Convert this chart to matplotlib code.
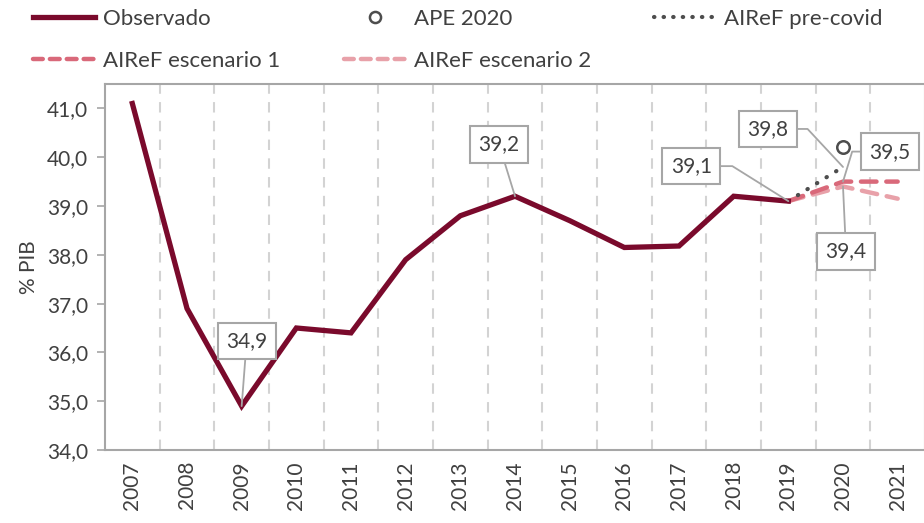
import matplotlib
matplotlib.use("Agg")
import matplotlib.pyplot as plt
import numpy as np
from matplotlib.lines import Line2D

years = ["2007", "2008", "2009", "2010", "2011", "2012", "2013", "2014",
         "2015", "2016", "2017", "2018", "2019", "2020", "2021"]
observado = [41.1, 36.9, 34.9, 36.5, 36.4, 37.9, 38.8, 39.2, 38.7, 38.15, 38.18, 39.2, 39.1]
precovid_years = ["2019", "2020"]
precovid = [39.1, 39.8]
ape_years = ["2020"]
ape = [40.2]
scen_years = ["2019", "2020", "2021"]
escenario1 = [39.1, 39.5, 39.5]
escenario2 = [39.1, 39.4, 39.15]

# labelled points: (series years, series values, year, text, offset px, elbow angle)
labels = [
    (years, observado, "2009", "34,9", (5, 65), None),
    (years, observado, "2014", "39,2", (-16, 52), None),
    (years, observado, "2019", "39,1", (-97, 35), -32),
    (precovid_years, precovid, "2020", "39,8", (-75, 38), -47),
    (scen_years, escenario1, "2020", "39,5", (47, 30), 73),
    (scen_years, escenario2, "2020", "39,4", (3, -65), None),
]

C_OBS = "#7A0A2C"
C_E1 = "#D9697A"
C_E2 = "#E8A1A9"
C_PRE = "#4D4D4D"
TXT = "#404040"
GRID = "#D3D3D3"
SPINE = "#A6A6A6"

plt.rcParams["font.family"] = ["Lato", "DejaVu Sans"]
plt.rcParams["font.size"] = 15


def xpos(ys):
    return [years.index(y) for y in ys]


fig = plt.figure(figsize=(9.24, 5.23), dpi=100)
ax = fig.add_axes([105 / 924, 1 - 450 / 523, 820 / 924, 366 / 523])

ax.plot(xpos(years[:len(observado)]), observado, color=C_OBS, lw=3.8,
        solid_joinstyle="miter", zorder=4)
ax.plot(xpos(scen_years), escenario2, color=C_E2, lw=3.2, dashes=(3.5, 2.2),
        dash_capstyle="round", zorder=3)
ax.plot(xpos(scen_years), escenario1, color=C_E1, lw=3.2, dashes=(3.5, 2.2),
        dash_capstyle="round", zorder=3)
ax.plot(xpos(precovid_years), precovid, color=C_PRE, lw=3, linestyle=(0, (0.1, 2.6)),
        dash_capstyle="round", zorder=3)
ax.plot(xpos(ape_years), ape, linestyle="none", marker="o", ms=9, mfc="white",
        mec=C_PRE, mew=1.8, zorder=5)

for ys, vals, yr, txt, off, ang in labels:
    i = ys.index(yr)
    if ang is None:
        cs = "arc3"
    else:
        cs = "angle,angleA=0,angleB=%d,rad=0" % ang
    ax.annotate(txt, xy=(years.index(yr), vals[i]), xytext=off,
                textcoords="offset pixels", ha="center", va="center",
                color=TXT, fontsize=15,
                bbox=dict(boxstyle="square,pad=0.4", fc="white", ec=SPINE, lw=1.5),
                arrowprops=dict(arrowstyle="-", color=SPINE, lw=1.3,
                                shrinkA=0, shrinkB=0, connectionstyle=cs),
                zorder=6)

ax.set_xlim(-0.5, len(years) - 0.5)
ax.set_ylim(34, 41.5)
ax.set_xticks(range(len(years)))
ax.set_xticklabels(years, rotation=90, color=TXT)
ax.tick_params(axis="x", length=0, pad=8)
ax.set_xticks(np.arange(0.5, len(years) - 0.5, 1), minor=True)
ax.tick_params(axis="x", which="minor", length=0)
ax.grid(axis="x", which="minor", color=GRID, lw=1.5, linestyle=(0, (5, 4)))

yt = np.arange(34, 41.5, 1.0)
ax.set_yticks(yt)
ax.set_yticklabels([f"{v:.1f}".replace(".", ",") for v in yt], color=TXT)
ax.tick_params(axis="y", length=6, width=1.2, color=SPINE, pad=6)
ax.set_ylabel("% PIB", color=TXT, fontsize=15, labelpad=6)

for s in ax.spines.values():
    s.set_color(SPINE)
    s.set_linewidth(1.5)

handles = [
    Line2D([], [], color=C_OBS, lw=3.8),
    Line2D([], [], color=C_E1, lw=3.2, dashes=(2.2, 1.6), dash_capstyle="round"),
    Line2D([], [], linestyle="none", marker="o", ms=8, mfc="white", mec=C_PRE, mew=1.8),
    Line2D([], [], color=C_E2, lw=3.2, dashes=(2.2, 1.6), dash_capstyle="round"),
    Line2D([], [], color=C_PRE, lw=3, linestyle=(0, (0.1, 2.2)), dash_capstyle="round"),
]
names = ["Observado", "AIReF escenario 1", "APE 2020", "AIReF escenario 2", "AIReF pre-covid"]
fig.legend(handles, names, loc="upper left", bbox_to_anchor=(33 / 924, 1 - 9 / 523),
           ncol=3, frameon=False, fontsize=16, handlelength=2.8, handletextpad=0.35,
           columnspacing=2.85, labelspacing=1.0, borderpad=0, borderaxespad=0,
           labelcolor=TXT)

fig.savefig("out.png", dpi=100)
